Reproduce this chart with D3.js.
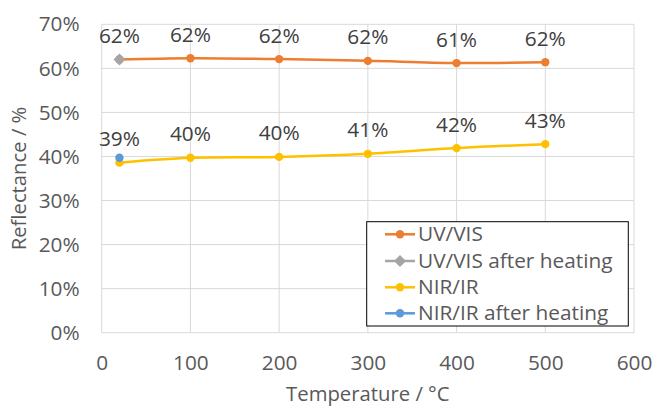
<!DOCTYPE html>
<html>
<head>
  <meta charset="UTF-8" />
  <title>Reflectance vs temperature</title>
  <script src="https://d3js.org/d3.v7.min.js"></script>
  <style>
    body { margin: 0; background: #fff; }
    text { font-family: "Open Sans", sans-serif; }
  </style>
</head>
<body>
  <div id="chart"></div>
  <script>
    // data
    const temps = [20, 100, 200, 300, 400, 500];
    const uvVis = [0.620, 0.623, 0.621, 0.617, 0.612, 0.614];
    const uvVisLabels = ["62%", "62%", "62%", "62%", "61%", "62%"];
    const nirIr = [0.386, 0.397, 0.399, 0.406, 0.419, 0.428];
    const nirIrLabels = ["39%", "40%", "40%", "41%", "42%", "43%"];
    const uvVisHeatT = [20];
    const uvVisHeat = [0.620];
    const nirIrHeatT = [20];
    const nirIrHeat = [0.397];
    const xTicks = [0, 100, 200, 300, 400, 500, 600];
    const yTicks = [0, 0.1, 0.2, 0.3, 0.4, 0.5, 0.6, 0.7];
    const seriesNames = ["UV/VIS", "UV/VIS after heating", "NIR/IR", "NIR/IR after heating"];
    const colors = ["#ED7D31", "#A5A5A5", "#FFC000", "#5B9BD5"];

    const W = 654, H = 407;
    const pLeft = 101.7, pRight = 634, pTop = 24.3, pBottom = 332.7;
    const fs = 20.8;

    const svg = d3.select("#chart").append("svg")
      .attr("width", W).attr("height", H);

    const x = d3.scaleLinear().domain([0, 600]).range([pLeft, pRight]);
    const y = d3.scaleLinear().domain([0, 0.7]).range([pBottom, pTop]);

    // gridlines
    svg.append("g").selectAll("line").data(yTicks).enter().append("line")
      .attr("x1", pLeft).attr("x2", pRight)
      .attr("y1", d => y(d)).attr("y2", d => y(d))
      .attr("stroke", "#D9D9D9").attr("stroke-width", 1);
    svg.append("g").selectAll("line").data(xTicks).enter().append("line")
      .attr("y1", pTop).attr("y2", pBottom)
      .attr("x1", d => x(d)).attr("x2", d => x(d))
      .attr("stroke", "#D9D9D9").attr("stroke-width", 1);

    // axes
    const yAxis = d3.axisLeft(y).tickValues(yTicks).tickSize(0).tickPadding(22)
      .tickFormat(d => Math.round(d * 100) + "%");
    const gy = svg.append("g").attr("transform", `translate(${pLeft},0)`).call(yAxis);
    gy.select(".domain").remove();
    gy.selectAll("text").attr("font-size", fs).attr("fill", "#595959")
      .attr("font-family", "Open Sans, sans-serif");

    const xAxis = d3.axisBottom(x).tickValues(xTicks).tickSize(0).tickPadding(23);
    const gx = svg.append("g").attr("transform", `translate(0,${pBottom})`).call(xAxis);
    gx.select(".domain").remove();
    gx.selectAll("text").attr("font-size", fs).attr("fill", "#595959")
      .attr("font-family", "Open Sans, sans-serif");

    // axis titles
    svg.append("text")
      .attr("transform", `translate(21,${(pTop + pBottom) / 2}) rotate(-90)`)
      .attr("text-anchor", "middle").attr("dominant-baseline", "middle")
      .attr("font-size", 20.3).attr("fill", "#595959")
      .text("Reflectance / %");
    svg.append("text")
      .attr("x", (pLeft + pRight) / 2).attr("y", 396)
      .attr("text-anchor", "middle").attr("dominant-baseline", "middle")
      .attr("font-size", 20.3).attr("fill", "#595959")
      .text("Temperature / °C");

    const line = d3.line()
      .x(d => x(d[0])).y(d => y(d[1]))
      .curve(d3.curveCatmullRom.alpha(0.5));

    function drawSeries(ts, vals, color, shape) {
      const pts = ts.map((t, i) => [t, vals[i]]);
      svg.append("path").datum(pts)
        .attr("d", line).attr("fill", "none")
        .attr("stroke", color).attr("stroke-width", 2.5);
      const sym = shape === "diamond"
        ? d3.symbol().type(d3.symbolDiamond2).size(90)
        : d3.symbol().type(d3.symbolCircle).size(55);
      svg.append("g").selectAll("path").data(pts).enter().append("path")
        .attr("d", sym)
        .attr("transform", d => `translate(${x(d[0])},${y(d[1])})`)
        .attr("fill", color);
    }

    drawSeries(temps, uvVis, colors[0], "circle");
    drawSeries(uvVisHeatT, uvVisHeat, colors[1], "diamond");
    drawSeries(temps, nirIr, colors[2], "circle");
    drawSeries(nirIrHeatT, nirIrHeat, colors[3], "circle");

    // data labels
    function drawLabels(ts, vals, labels) {
      svg.append("g").selectAll("text").data(ts).enter().append("text")
        .attr("x", d => x(d))
        .attr("y", (d, i) => y(vals[i]) - 22)
        .attr("text-anchor", "middle").attr("dominant-baseline", "middle")
        .attr("font-size", fs).attr("fill", "#404040")
        .text((d, i) => labels[i]);
    }
    drawLabels(temps, uvVis, uvVisLabels);
    drawLabels(temps, nirIr, nirIrLabels);

    // legend
    const lg = svg.append("g");
    lg.append("rect")
      .attr("x", 366.7).attr("y", 221.7)
      .attr("width", 261.6).attr("height", 104.3)
      .attr("fill", "#fff").attr("stroke", "#000").attr("stroke-width", 1);
    const rowY = [234.3, 261, 287.3, 313.3];
    seriesNames.forEach((name, i) => {
      const g = lg.append("g").attr("transform", `translate(0,${rowY[i]})`);
      g.append("line").attr("x1", 385).attr("x2", 415)
        .attr("stroke", colors[i]).attr("stroke-width", 2.5);
      const sym = i === 1
        ? d3.symbol().type(d3.symbolDiamond2).size(90)
        : d3.symbol().type(d3.symbolCircle).size(55);
      g.append("path").attr("d", sym).attr("transform", "translate(400,0)")
        .attr("fill", colors[i]);
      g.append("text").attr("x", 418).attr("y", 1)
        .attr("dominant-baseline", "middle")
        .attr("font-size", fs).attr("fill", "#595959")
        .text(name);
    });
  </script>
</body>
</html>
